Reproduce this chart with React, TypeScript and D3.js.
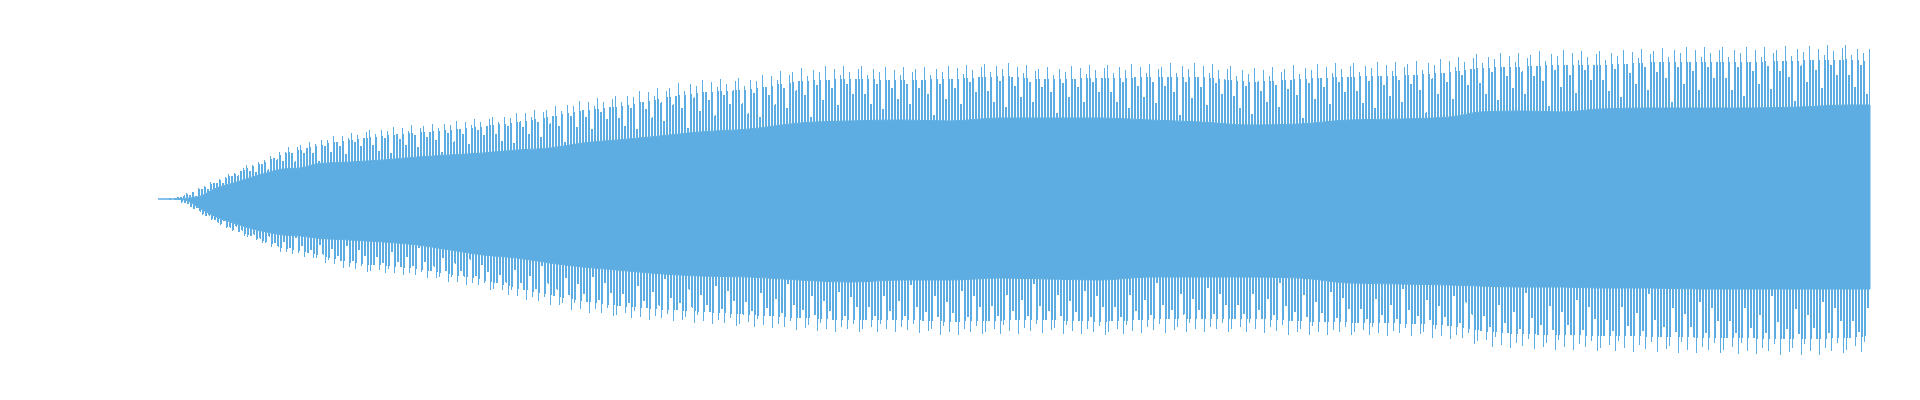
import React from 'react';
import * as d3 from 'd3';

// envelope of the signal (time in s, amplitude in raw units)
const timeSec = [0, 1, 1.9, 2.9, 4.1, 5.3, 6.4, 7.6, 8.8, 10, 11.1, 13.5, 15.8, 18.2, 20.5, 22.8, 25.2, 27.5, 29.8, 32.2, 34.5, 38, 41.5, 45, 48.5, 52, 55.5, 59, 62.5, 66, 69.5, 73, 76.5, 80, 83.5, 87.1, 90.6, 92.7, 95.5, 98.3, 101.1, 104.6, 108.1, 111.6, 115.1, 118.6, 120];
// highest spike tips above zero
const upperPeak = [0, 1, 5, 12, 19, 27, 35, 41, 50, 55, 59, 66, 71, 74, 77, 81, 86, 92, 99, 103, 110, 119, 122, 131, 133, 132, 133, 136, 132, 134, 135, 136, 131, 134, 136, 137, 141, 145, 146, 149, 148, 151, 152, 152, 153, 154, 150];
// where the trace becomes solid above zero
const upperBody = [0, 0, 0.5, 2.5, 11, 16, 21, 26, 30, 31, 35, 37, 39, 42, 44, 46, 49, 51, 56, 59, 62, 67, 70, 76, 78, 79, 78, 81, 81, 81, 79, 77, 74, 75, 79, 80, 82, 87, 88, 87, 90, 91, 91, 91, 92, 94, 94];
// deepest spike tips below zero
const lowerPeak = [0, 1, 5, 14, 24, 33, 39, 46, 54, 57, 61, 71, 74, 78, 83, 89, 99, 106, 113, 118, 121, 124, 128, 131, 133, 133, 136, 135, 134, 136, 134, 133, 133, 136, 136, 137, 140, 146, 150, 151, 152, 153, 154, 155, 156, 154, 152];
// where the trace becomes solid below zero
const lowerBody = [0, 0, 1, 9, 18, 24, 29, 33, 36, 37, 39, 41, 43, 46, 51, 56, 59, 64, 68, 71, 74, 77, 78, 81, 83, 81, 81, 79, 80, 81, 78, 78, 78, 79, 84, 85, 86, 87, 88, 88, 89, 89, 90, 90, 90, 90, 90];

const width = 1920;
const height = 400;
const blue = '#5dade2';

// texture of the spiky fringe (styling only)
const levels = [0, 0.1, 0.2, 0.3, 0.4, 0.5, 0.6, 0.68, 0.76, 0.84, 0.9, 0.95, 1];
const spikeRank = [12, 5, 9, 3, 11, 7, 10, 2, 12, 8, 6, 11, 4, 9, 12, 7, 3, 10, 11, 6, 8, 12, 5, 9, 1, 11, 7, 10, 4, 12, 8, 6, 11, 3, 9, 12, 7, 10, 5, 8, 11];
const pitch = 3;
const barWidth = (k: number) => (k <= 8 ? 2 : 1);

const x = d3.scaleLinear().domain([0, 120]).range([158, 1870]);
const y = d3.scaleLinear().domain([-160, 160]).range([359, 39]);

const idx = d3.range(timeSec.length);

const lerp = (a: number, b: number, f: number) => a + (b - a) * f;

const bodyArea = d3.area<number>()
  .x(i => x(timeSec[i]))
  .y0(i => y(-lowerBody[i]))
  .y1(i => y(upperBody[i]))
  .curve(d3.curveMonotoneX);

const upperBand = (k: number) => d3.area<number>()
  .x(i => x(timeSec[i]))
  .y0(i => y(lerp(upperBody[i], upperPeak[i], levels[k - 1])))
  .y1(i => y(lerp(upperBody[i], upperPeak[i], levels[k])))
  .curve(d3.curveMonotoneX);

const lowerBand = (k: number) => d3.area<number>()
  .x(i => x(timeSec[i]))
  .y0(i => y(-lerp(lowerBody[i], lowerPeak[i], levels[k - 1])))
  .y1(i => y(-lerp(lowerBody[i], lowerPeak[i], levels[k])))
  .curve(d3.curveMonotoneX);

const bands = d3.range(1, levels.length);
const tileW = pitch * spikeRank.length;

const Pattern: React.FC<{ id: string; k: number; ranks: number[]; offset: number }> = ({ id, k, ranks, offset }) => (
  <pattern id={id} patternUnits="userSpaceOnUse" x={offset} y={0} width={tileW} height={height}>
    {ranks.map((r, i) => r >= k ? (
      <rect key={i} x={i * pitch} y={0} width={barWidth(k)} height={height} fill={blue} />
    ) : null)}
  </pattern>
);

const App: React.FC = () => {
  const lowerRanks = [...spikeRank].reverse();
  return (
    <svg width={width} height={height} style={{ position: 'absolute', left: 0, top: 0 }} shapeRendering="crispEdges">
      <defs>
        {bands.map(k => <Pattern key={'u' + k} id={`up-${k}`} k={k} ranks={spikeRank} offset={0} />)}
        {bands.map(k => <Pattern key={'d' + k} id={`dn-${k}`} k={k} ranks={lowerRanks} offset={1} />)}
      </defs>
      {bands.map(k => (
        <path key={'ub' + k} d={upperBand(k)(idx) ?? ''} fill={`url(#up-${k})`} />
      ))}
      {bands.map(k => (
        <path key={'lb' + k} d={lowerBand(k)(idx) ?? ''} fill={`url(#dn-${k})`} />
      ))}
      <path d={bodyArea(idx) ?? ''} fill={blue} stroke={blue} strokeWidth={1} shapeRendering="auto" />
    </svg>
  );
};

export default App;
